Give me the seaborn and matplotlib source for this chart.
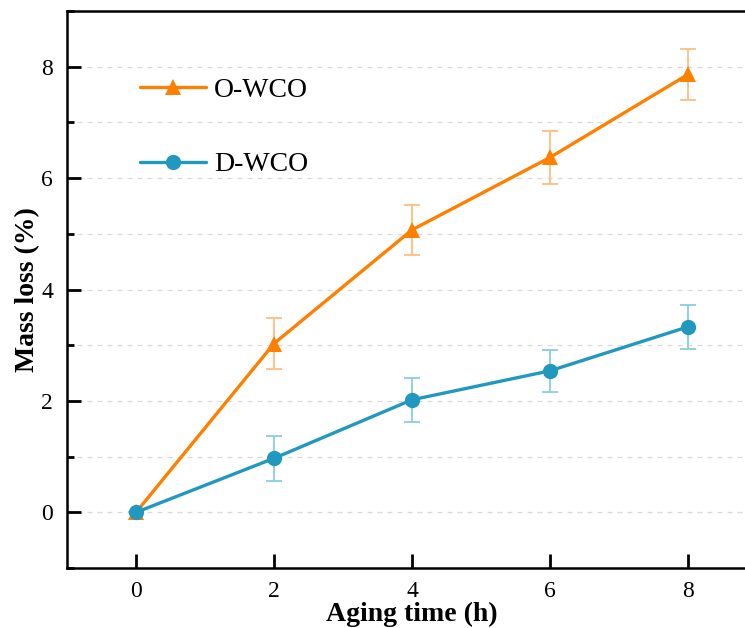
import matplotlib.pyplot as plt
import matplotlib.ticker as mticker
import numpy as np
import pandas as pd
import seaborn as sns

aging_time = [0, 2, 4, 6, 8]
owco_loss = [0.0, 3.03, 5.07, 6.37, 7.86]
owco_err = [0.0, 0.46, 0.45, 0.47, 0.45]
dwco_loss = [0.0, 0.97, 2.02, 2.54, 3.33]
dwco_err = [0.0, 0.40, 0.40, 0.38, 0.40]

ORANGE = '#FF8000'
ORANGE_LIGHT = '#FFBE80'
BLUE = '#2199BF'
BLUE_LIGHT = '#86CFE3'

sns.set_theme(style='ticks', rc={'text.color': 'black', 'axes.labelcolor': 'black',
                                 'xtick.color': 'black', 'ytick.color': 'black',
                                 'axes.edgecolor': 'black'})
plt.rcParams['font.family'] = ['Liberation Serif', 'DejaVu Serif']

df = pd.DataFrame({'time': aging_time * 2,
                   'loss': owco_loss + dwco_loss,
                   'err': owco_err + dwco_err,
                   'sample': ['O-WCO'] * 5 + ['D-WCO'] * 5})

fig = plt.figure(figsize=(7.45, 6.28), dpi=100)
ax = fig.add_axes([0.09, 0.0955, 0.926, 0.887])

ax.set_axisbelow(True)
ax.grid(axis='y', which='both', ls=(0, (4, 4)), lw=0.9, color='#d9d9d9')

styles = {'O-WCO': (ORANGE, ORANGE_LIGHT, '^', 12), 'D-WCO': (BLUE, BLUE_LIGHT, 'o', 11)}
for name, sub in df.groupby('sample', sort=False):
    col, ecol, mk, ms = styles[name]
    ax.errorbar(sub['time'], sub['loss'], yerr=sub['err'], fmt='none', ecolor=ecol,
                elinewidth=1.3, capsize=6, capthick=1.3, zorder=2)
    sns.lineplot(data=sub, x='time', y='loss', ax=ax, color=col, lw=2.4, marker=mk,
                 markersize=ms, markeredgewidth=0, label=name, zorder=3)

ax.set_xlim(-1, 9)
ax.set_ylim(-1, 9)
ax.xaxis.set_major_locator(mticker.MultipleLocator(2))
ax.yaxis.set_major_locator(mticker.MultipleLocator(2))
ax.yaxis.set_minor_locator(mticker.MultipleLocator(1))
ax.tick_params(which='major', direction='in', length=10, width=2, labelsize=17, pad=10)
ax.tick_params(which='minor', direction='in', length=5, width=2)
ax.tick_params(axis='x', pad=9)
for s in ax.spines.values():
    s.set_linewidth(1.8)

ax.set_xlabel('Aging time (h)', fontsize=20, fontweight='bold', labelpad=0)
ax.set_ylabel('Mass loss (%)', fontsize=20, fontweight='bold', labelpad=1)

ax.legend(loc='upper left', bbox_to_anchor=(0.07, 0.925), frameon=False, fontsize=20,
          handlelength=2.35, handletextpad=0.3, labelspacing=1.75)

plt.savefig('out.png', dpi=100)
plt.close(fig)
